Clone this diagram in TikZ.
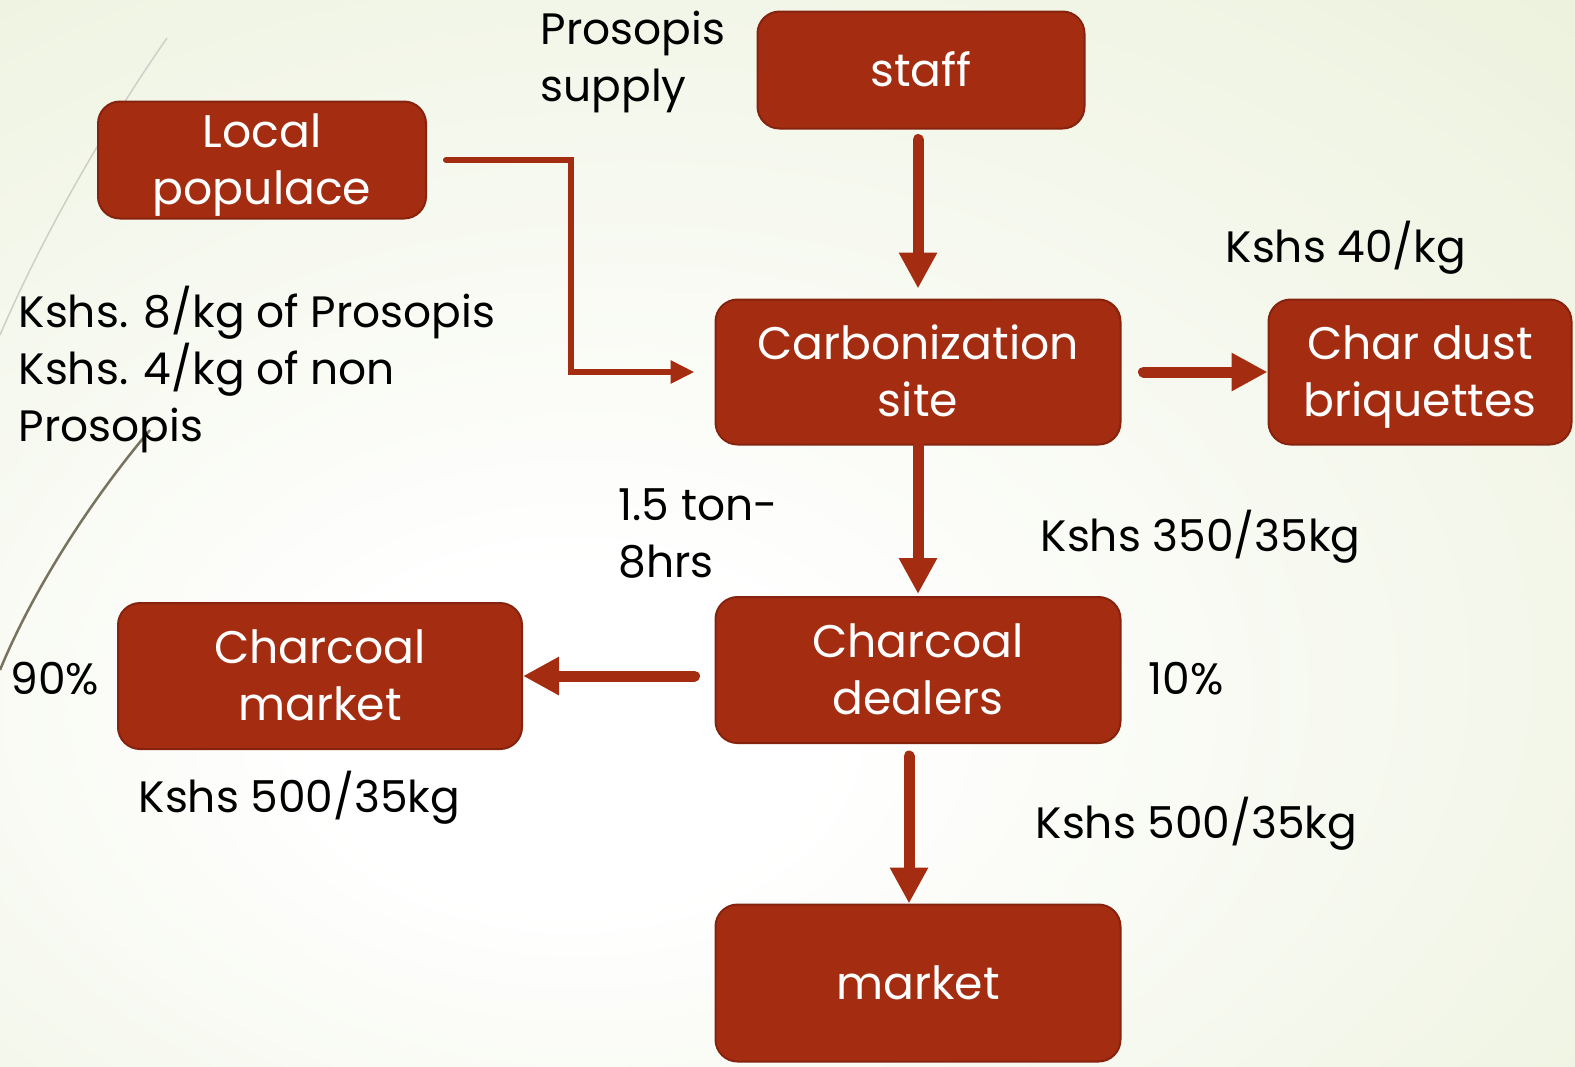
\documentclass[tikz,border=0pt]{standalone}
\usepackage{fontspec}
\setmainfont{Poppins}
\usetikzlibrary{arrows.meta}
\definecolor{boxred}{RGB}{164,45,17}
\definecolor{boxedge}{RGB}{134,35,14}
\definecolor{bggreen}{RGB}{222,232,196}
\definecolor{wisp}{RGB}{120,115,95}
\pgfdeclareradialshading{slidebg}{\pgfpoint{-8bp}{-11bp}}{color(0bp)=(white); color(8bp)=(white); color(66bp)=(bggreen)}
% fixed line height, so that text sits the same in every box
\newcommand\lnstrut{\rule[-3.5pt]{0pt}{16.2pt}}

\begin{document}
\begin{tikzpicture}[x=0.1mm, y=-0.1mm,
  every node/.style={font=\fontsize{13}{16.2}\selectfont,
    execute at begin node=\lnstrut, execute at end node=\lnstrut},
  stage/.style={draw=boxedge, line width=0.2mm, fill=boxred, text=white, rounded corners=2.2mm, align=center, inner sep=0pt},
  flow/.style={draw=boxred, line width=1.1mm, line cap=round, -{Triangle[width=3.6mm, length=3.6mm]}},
  feed/.style={draw=boxred, line width=0.6mm, line cap=round, -{Triangle[width=2.2mm, length=2.4mm]}},
  note/.style={anchor=west, align=left, inner sep=0pt, font=\fontsize{12.5}{16.2}\selectfont}]
  \useasboundingbox (0,0) rectangle (1575,1066);
  \shade[shading=slidebg] (0,0) rectangle (1575,1066);
  % wisps on the left edge
  \draw[wisp!35, line width=0.15mm] (167,38) .. controls (110,120) and (45,230) .. (0,335);
  \draw[wisp, line width=0.25mm] (150,430) .. controls (95,495) and (35,585) .. (0,670);

  \node[stage, minimum width=32.7mm, minimum height=11.7mm] (staff) at (921,70) {staff};
  \node[stage, minimum width=32.8mm, minimum height=11.7mm] (local) at (262,160) {\lnstrut Local\\populace};
  \node[stage, minimum width=40.5mm, minimum height=14.5mm] (carb) at (918,372) {\lnstrut Carbonization\\site};
  \node[stage, minimum width=30.3mm, minimum height=14.5mm] (dust) at (1420,372) {\lnstrut Char dust\\briquettes};
  \node[stage, minimum width=40.5mm, minimum height=14.6mm] (dealers) at (918,670) {\lnstrut Charcoal\\dealers};
  \node[stage, minimum width=40.4mm, minimum height=14.6mm] (cmarket) at (320,676) {\lnstrut Charcoal\\market};
  \node[stage, minimum width=40.5mm, minimum height=15.7mm] (market) at (918,983) {market};

  \draw[flow, shorten <=1mm, shorten >=1mm] (staff.south -| carb.north) -- (carb.north);
  \draw[feed] ([xshift=1.9mm]local.east) -- ++(125,0) |- ([xshift=-2mm]carb.west);
  \draw[flow, shorten <=2.2mm] (carb.east) -- (dust.west);
  \draw[flow, shorten >=0.2mm] (carb.south) -- (dealers.north);
  \draw[flow, shorten <=2mm] (dealers.west |- cmarket.east) -- (cmarket.east);
  \draw[flow, shorten <=1.2mm] ([xshift=-0.9mm]dealers.south) -- ([xshift=-0.9mm]market.north);

  \node[note] (supply) at (540,57) {\lnstrut Prosopis\\supply};
  \node[note] (price40) at (1225,246) {Kshs 40/kg};
  \node[note] (pricewood) at (18,368) {\lnstrut Kshs. 8/kg of Prosopis\\Kshs. 4/kg of non\\Prosopis};
  \node[note] (rate) at (618,533) {\lnstrut 1.5 ton-\\8hrs};
  \node[note] (price350) at (1040,535) {Kshs 350/35kg};
  \node[note] (share90) at (10,678) {90\%};
  \node[note] (share10) at (1148,678) {10\%};
  \node[note] (price500a) at (138,796) {Kshs 500/35kg};
  \node[note] (price500b) at (1035,822) {Kshs 500/35kg};
\end{tikzpicture}
\end{document}
